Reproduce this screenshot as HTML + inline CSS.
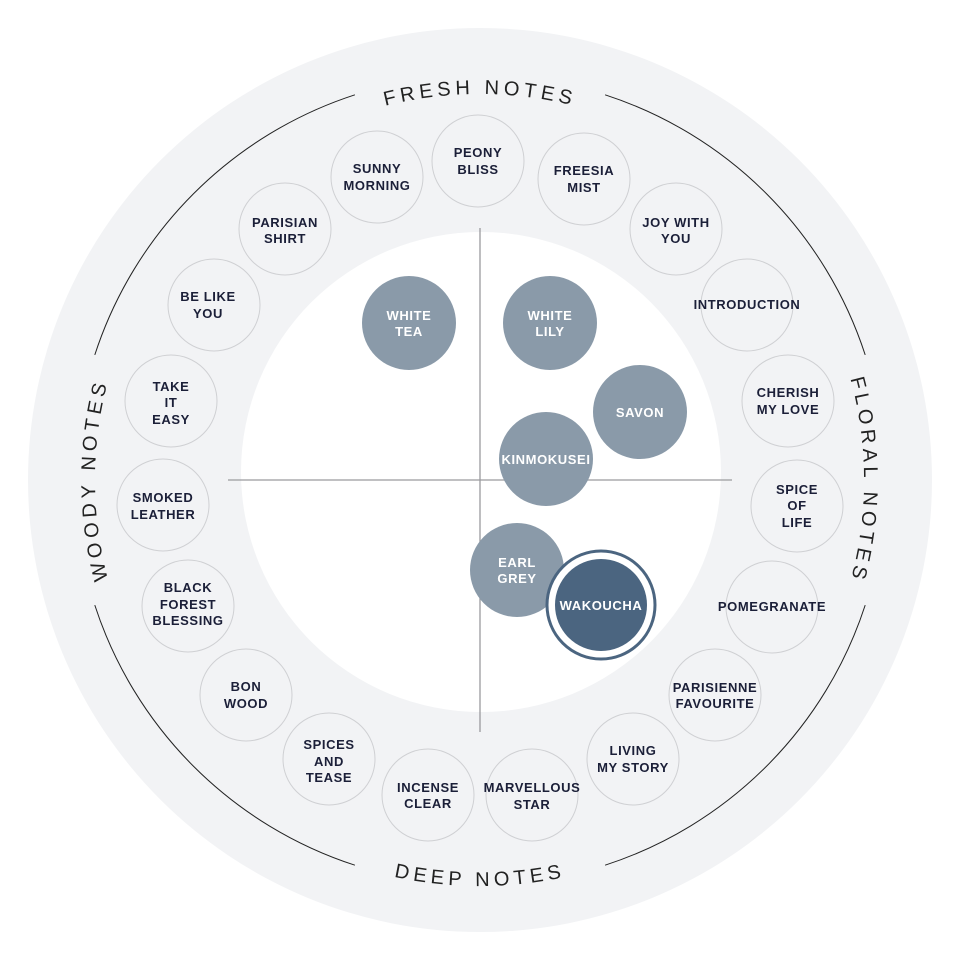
<!DOCTYPE html>
<html><head><meta charset="utf-8"><style>
html,body{margin:0;padding:0;background:#fff;}
svg{display:block;}
.t{font-family:"Liberation Sans",sans-serif;font-weight:bold;font-size:13px;fill:#1b1f38;text-anchor:middle;letter-spacing:0.6px;}
.w{font-family:"Liberation Sans",sans-serif;font-weight:bold;font-size:13px;fill:#fff;text-anchor:middle;letter-spacing:0.6px;}
.h{font-family:"Liberation Sans",sans-serif;font-size:20px;fill:#222;letter-spacing:4.5px;}
.s{fill:none;stroke:#cfd0d3;stroke-width:1;}
</style></head><body>
<svg width="960" height="960" viewBox="0 0 960 960" xmlns="http://www.w3.org/2000/svg">
<defs>
<path id="pt" d="M 94,480 A 386 386 0 0 1 866,480"/>
<path id="pl" d="M 480,865 A 385 385 0 0 1 480,95"/>
<path id="pr" d="M 480,96 A 384 384 0 0 1 480,864"/>
<path id="pb" d="M 74,480 A 406 406 0 0 0 886,480"/>
</defs>
<circle cx="480" cy="480" r="452" fill="#f2f3f5"/>
<circle cx="481" cy="472" r="240" fill="#fff"/>
<g fill="none" stroke="#222" stroke-width="1">
<path d="M 94.8,354.9 A 405 405 0 0 1 354.9,94.8"/>
<path d="M 605.1,94.8 A 405 405 0 0 1 865.2,354.9"/>
<path d="M 865.2,605.1 A 405 405 0 0 1 605.1,865.2"/>
<path d="M 354.9,865.2 A 405 405 0 0 1 94.8,605.1"/>
</g>
<text class="h"><textPath href="#pt" startOffset="50%" text-anchor="middle">FRESH NOTES</textPath></text>
<text class="h"><textPath href="#pl" startOffset="50%" text-anchor="middle">WOODY NOTES</textPath></text>
<text class="h"><textPath href="#pr" startOffset="50%" text-anchor="middle">FLORAL NOTES</textPath></text>
<text class="h"><textPath href="#pb" startOffset="50%" text-anchor="middle">DEEP NOTES</textPath></text>

<g class="s">
<circle cx="478" cy="161" r="46"/><circle cx="377" cy="177" r="46"/><circle cx="584" cy="179" r="46"/>
<circle cx="285" cy="229" r="46"/><circle cx="676" cy="229" r="46"/><circle cx="214" cy="305" r="46"/>
<circle cx="747" cy="305" r="46"/><circle cx="171" cy="401" r="46"/><circle cx="788" cy="401" r="46"/>
<circle cx="163" cy="505" r="46"/><circle cx="797" cy="506" r="46"/><circle cx="188" cy="606" r="46"/>
<circle cx="772" cy="607" r="46"/><circle cx="246" cy="695" r="46"/><circle cx="715" cy="695" r="46"/>
<circle cx="329" cy="759" r="46"/><circle cx="633" cy="759" r="46"/><circle cx="428" cy="795" r="46"/>
<circle cx="532" cy="795" r="46"/>
</g>
<g class="t">
<text x="478" y="157">PEONY</text><text x="478" y="174">BLISS</text>
<text x="377" y="173">SUNNY</text><text x="377" y="190">MORNING</text>
<text x="584" y="175">FREESIA</text><text x="584" y="192">MIST</text>
<text x="285" y="227">PARISIAN</text><text x="285" y="243">SHIRT</text>
<text x="676" y="227">JOY WITH</text><text x="676" y="243">YOU</text>
<text x="208" y="301">BE LIKE</text><text x="208" y="318">YOU</text>
<text x="747" y="309">INTRODUCTION</text>
<text x="171" y="391">TAKE</text><text x="171" y="407">IT</text><text x="171" y="424">EASY</text>
<text x="788" y="397">CHERISH</text><text x="788" y="414">MY LOVE</text>
<text x="163" y="502">SMOKED</text><text x="163" y="519">LEATHER</text>
<text x="797" y="494">SPICE</text><text x="797" y="510">OF</text><text x="797" y="527">LIFE</text>
<text x="188" y="592">BLACK</text><text x="188" y="609">FOREST</text><text x="188" y="625">BLESSING</text>
<text x="772" y="611">POMEGRANATE</text>
<text x="246" y="691">BON</text><text x="246" y="708">WOOD</text>
<text x="715" y="692">PARISIENNE</text><text x="715" y="708">FAVOURITE</text>
<text x="329" y="749">SPICES</text><text x="329" y="766">AND</text><text x="329" y="782">TEASE</text>
<text x="633" y="755">LIVING</text><text x="633" y="772">MY STORY</text>
<text x="428" y="792">INCENSE</text><text x="428" y="808">CLEAR</text>
<text x="532" y="792">MARVELLOUS</text><text x="532" y="809">STAR</text>
</g>

<g stroke="#9a9a9e" stroke-width="1.3">
<line x1="480" y1="228" x2="480" y2="732"/>
<line x1="228" y1="480" x2="732" y2="480"/>
</g>

<g fill="#8a9aa9">
<circle cx="409" cy="323" r="47"/><circle cx="550" cy="323" r="47"/>
<circle cx="640" cy="412" r="47"/><circle cx="546" cy="459" r="47"/>
<circle cx="517" cy="570" r="47"/>
</g>
<circle cx="601" cy="605" r="54" fill="#fff" stroke="#4b6580" stroke-width="3"/>
<circle cx="601" cy="605" r="46" fill="#4b6580"/>
<g class="w">
<text x="409" y="320">WHITE</text><text x="409" y="336">TEA</text>
<text x="550" y="320">WHITE</text><text x="550" y="336">LILY</text>
<text x="640" y="417">SAVON</text>
<text x="546" y="464">KINMOKUSEI</text>
<text x="517" y="567">EARL</text><text x="517" y="583">GREY</text>
<text x="601" y="610">WAKOUCHA</text>
</g>
</svg>
</body></html>
